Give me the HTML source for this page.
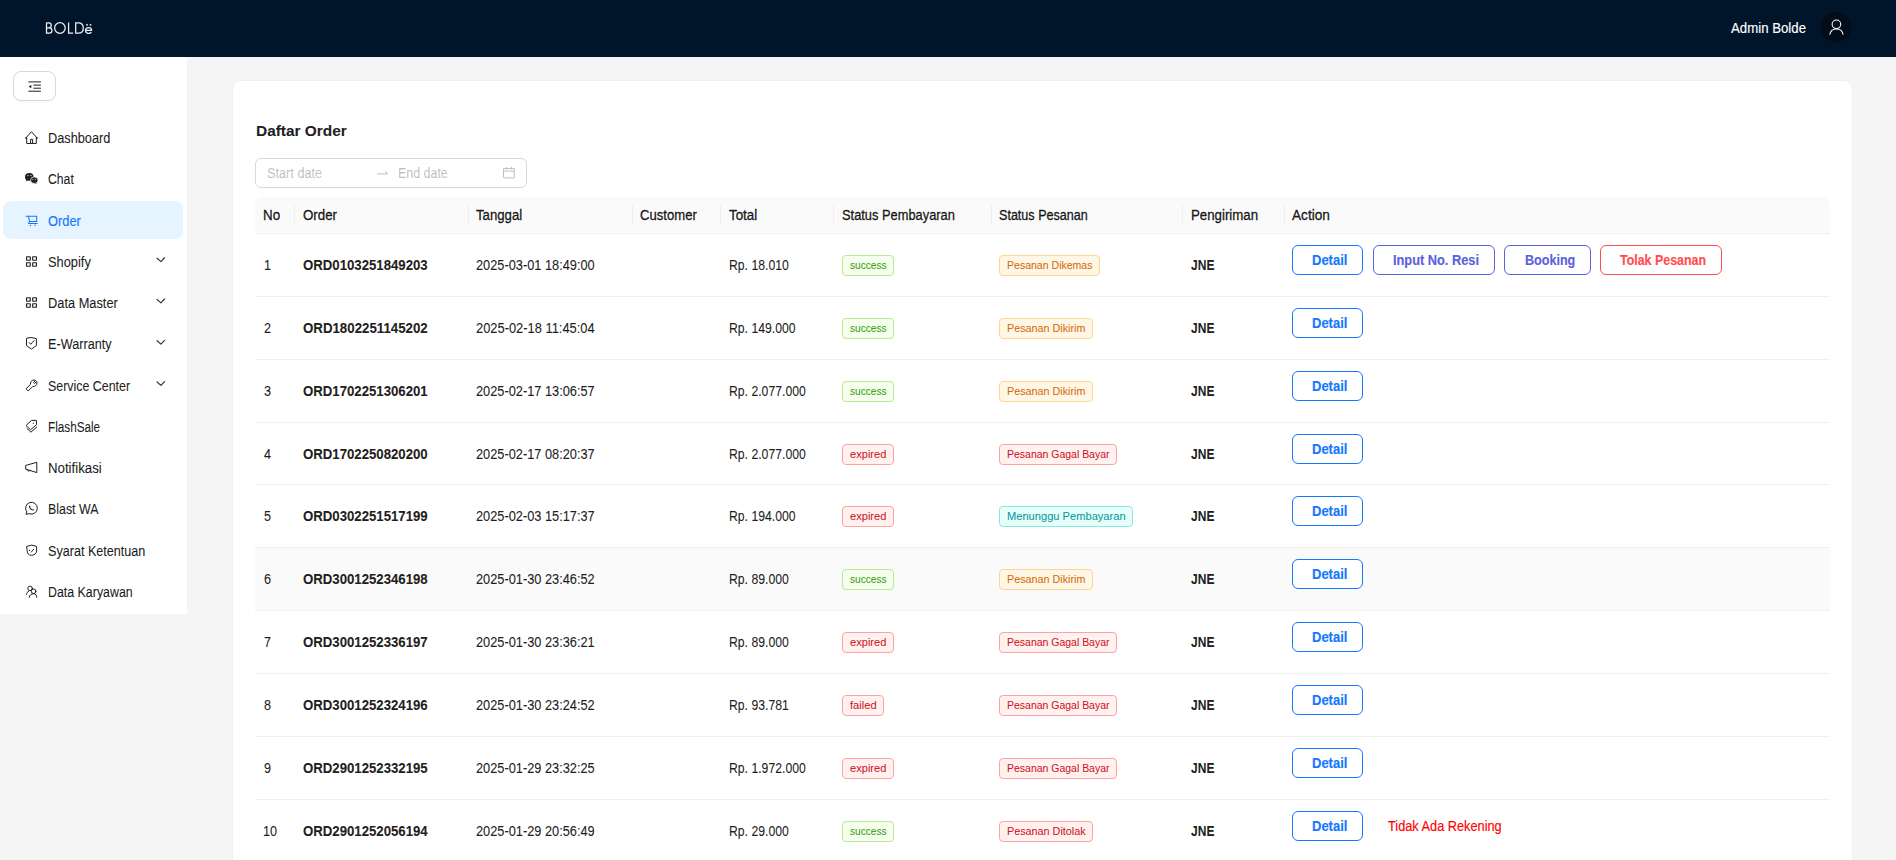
<!DOCTYPE html>
<html><head><meta charset="utf-8"><style>
html,body{margin:0;padding:0}
body{width:1896px;height:860px;overflow:hidden;position:relative;background:#f5f5f5;font-family:"Liberation Sans",sans-serif}
.t{position:absolute;white-space:pre;transform-origin:0 0;-webkit-text-stroke:0.15px currentColor}
svg{position:absolute;overflow:visible}
</style></head><body>
<div style="position:absolute;left:0px;top:0px;width:1896px;height:57px;background:#001529"></div>
<div style="position:absolute;left:0px;top:57px;width:187px;height:557px;background:#fff"></div>
<div style="position:absolute;left:13px;top:71.2px;width:43px;height:29.8px;box-sizing:border-box;border:1px solid #d9d9d9;border-radius:8px;box-shadow:0 2px 0 rgba(0,0,0,0.02);background:#fff"></div>
<div style="position:absolute;left:3px;top:200.6px;width:180px;height:38.3px;background:#e6f4ff;border-radius:8px"></div>
<div style="position:absolute;left:233px;top:81px;width:1619px;height:900px;background:#fff;border-radius:8px;box-shadow:0 0 0 1px #efefef"></div>
<div style="position:absolute;left:255px;top:158px;width:272px;height:29.6px;box-sizing:border-box;border:1px solid #d9d9d9;border-radius:6px;background:#fff"></div>
<div style="position:absolute;left:255px;top:197px;width:1575px;height:37px;background:#fafafa;border-radius:8px 8px 0 0;box-sizing:border-box;border-bottom:1px solid #f0f0f0"></div>
<div style="position:absolute;left:294.1px;top:204.3px;width:1px;height:21px;background:#f0f0f0"></div>
<div style="position:absolute;left:468.2px;top:204.3px;width:1px;height:21px;background:#f0f0f0"></div>
<div style="position:absolute;left:632.2px;top:204.3px;width:1px;height:21px;background:#f0f0f0"></div>
<div style="position:absolute;left:720.0px;top:204.3px;width:1px;height:21px;background:#f0f0f0"></div>
<div style="position:absolute;left:833.0px;top:204.3px;width:1px;height:21px;background:#f0f0f0"></div>
<div style="position:absolute;left:990.6px;top:204.3px;width:1px;height:21px;background:#f0f0f0"></div>
<div style="position:absolute;left:1182.1px;top:204.3px;width:1px;height:21px;background:#f0f0f0"></div>
<div style="position:absolute;left:1284.3px;top:204.3px;width:1px;height:21px;background:#f0f0f0"></div>
<div style="position:absolute;left:255px;top:548px;width:1575px;height:62px;background:#fafafa"></div>
<div style="position:absolute;left:255px;top:296px;width:1575px;height:1px;background:#f0f0f0"></div>
<div style="position:absolute;left:255px;top:359px;width:1575px;height:1px;background:#f0f0f0"></div>
<div style="position:absolute;left:255px;top:422px;width:1575px;height:1px;background:#f0f0f0"></div>
<div style="position:absolute;left:255px;top:484px;width:1575px;height:1px;background:#f0f0f0"></div>
<div style="position:absolute;left:255px;top:547px;width:1575px;height:1px;background:#f0f0f0"></div>
<div style="position:absolute;left:255px;top:610px;width:1575px;height:1px;background:#f0f0f0"></div>
<div style="position:absolute;left:255px;top:673px;width:1575px;height:1px;background:#f0f0f0"></div>
<div style="position:absolute;left:255px;top:736px;width:1575px;height:1px;background:#f0f0f0"></div>
<div style="position:absolute;left:255px;top:799px;width:1575px;height:1px;background:#f0f0f0"></div>
<div style="position:absolute;left:842.1px;top:255.1px;width:51.7px;height:20.7px;box-sizing:border-box;background:#f6ffed;border:1px solid #b7eb8f;border-radius:4px"></div>
<div style="position:absolute;left:999.1px;top:255.1px;width:100.7px;height:20.7px;box-sizing:border-box;background:#fff7e6;border:1px solid #ffd591;border-radius:4px"></div>
<div style="position:absolute;left:1292.2px;top:245.2px;width:70.7px;height:29.5px;box-sizing:border-box;border:1px solid #1677ff;border-radius:6px;background:#fff"></div>
<div style="position:absolute;left:1373.2px;top:245.2px;width:121.6px;height:29.5px;box-sizing:border-box;border:1px solid #5b62dd;border-radius:6px;background:#fff"></div>
<div style="position:absolute;left:1504.2px;top:245.2px;width:86.5px;height:29.5px;box-sizing:border-box;border:1px solid #5b62dd;border-radius:6px;background:#fff"></div>
<div style="position:absolute;left:1600.2px;top:245.2px;width:121.8px;height:29.5px;box-sizing:border-box;border:1px solid #ff4d4f;border-radius:6px;background:#fff"></div>
<div style="position:absolute;left:842.1px;top:318.1px;width:51.7px;height:20.7px;box-sizing:border-box;background:#f6ffed;border:1px solid #b7eb8f;border-radius:4px"></div>
<div style="position:absolute;left:999.1px;top:318.1px;width:93.6px;height:20.7px;box-sizing:border-box;background:#fff7e6;border:1px solid #ffd591;border-radius:4px"></div>
<div style="position:absolute;left:1292.2px;top:308.2px;width:70.7px;height:29.5px;box-sizing:border-box;border:1px solid #1677ff;border-radius:6px;background:#fff"></div>
<div style="position:absolute;left:842.1px;top:381.1px;width:51.7px;height:20.7px;box-sizing:border-box;background:#f6ffed;border:1px solid #b7eb8f;border-radius:4px"></div>
<div style="position:absolute;left:999.1px;top:381.1px;width:93.6px;height:20.7px;box-sizing:border-box;background:#fff7e6;border:1px solid #ffd591;border-radius:4px"></div>
<div style="position:absolute;left:1292.2px;top:371.2px;width:70.7px;height:29.5px;box-sizing:border-box;border:1px solid #1677ff;border-radius:6px;background:#fff"></div>
<div style="position:absolute;left:842.1px;top:444.1px;width:51.6px;height:20.7px;box-sizing:border-box;background:#fff1f0;border:1px solid #ffa39e;border-radius:4px"></div>
<div style="position:absolute;left:999.1px;top:444.1px;width:117.7px;height:20.7px;box-sizing:border-box;background:#fff1f0;border:1px solid #ffa39e;border-radius:4px"></div>
<div style="position:absolute;left:1292.2px;top:434.2px;width:70.7px;height:29.5px;box-sizing:border-box;border:1px solid #1677ff;border-radius:6px;background:#fff"></div>
<div style="position:absolute;left:842.1px;top:506.1px;width:51.6px;height:20.7px;box-sizing:border-box;background:#fff1f0;border:1px solid #ffa39e;border-radius:4px"></div>
<div style="position:absolute;left:999.1px;top:506.1px;width:133.8px;height:20.7px;box-sizing:border-box;background:#e6fffb;border:1px solid #87e8de;border-radius:4px"></div>
<div style="position:absolute;left:1292.2px;top:496.2px;width:70.7px;height:29.5px;box-sizing:border-box;border:1px solid #1677ff;border-radius:6px;background:#fff"></div>
<div style="position:absolute;left:842.1px;top:569.1px;width:51.7px;height:20.7px;box-sizing:border-box;background:#f6ffed;border:1px solid #b7eb8f;border-radius:4px"></div>
<div style="position:absolute;left:999.1px;top:569.1px;width:93.6px;height:20.7px;box-sizing:border-box;background:#fff7e6;border:1px solid #ffd591;border-radius:4px"></div>
<div style="position:absolute;left:1292.2px;top:559.2px;width:70.7px;height:29.5px;box-sizing:border-box;border:1px solid #1677ff;border-radius:6px;background:#fff"></div>
<div style="position:absolute;left:842.1px;top:632.1px;width:51.6px;height:20.7px;box-sizing:border-box;background:#fff1f0;border:1px solid #ffa39e;border-radius:4px"></div>
<div style="position:absolute;left:999.1px;top:632.1px;width:117.7px;height:20.7px;box-sizing:border-box;background:#fff1f0;border:1px solid #ffa39e;border-radius:4px"></div>
<div style="position:absolute;left:1292.2px;top:622.2px;width:70.7px;height:29.5px;box-sizing:border-box;border:1px solid #1677ff;border-radius:6px;background:#fff"></div>
<div style="position:absolute;left:842.1px;top:695.1px;width:41.8px;height:20.7px;box-sizing:border-box;background:#fff1f0;border:1px solid #ffa39e;border-radius:4px"></div>
<div style="position:absolute;left:999.1px;top:695.1px;width:117.7px;height:20.7px;box-sizing:border-box;background:#fff1f0;border:1px solid #ffa39e;border-radius:4px"></div>
<div style="position:absolute;left:1292.2px;top:685.2px;width:70.7px;height:29.5px;box-sizing:border-box;border:1px solid #1677ff;border-radius:6px;background:#fff"></div>
<div style="position:absolute;left:842.1px;top:758.1px;width:51.6px;height:20.7px;box-sizing:border-box;background:#fff1f0;border:1px solid #ffa39e;border-radius:4px"></div>
<div style="position:absolute;left:999.1px;top:758.1px;width:117.7px;height:20.7px;box-sizing:border-box;background:#fff1f0;border:1px solid #ffa39e;border-radius:4px"></div>
<div style="position:absolute;left:1292.2px;top:748.2px;width:70.7px;height:29.5px;box-sizing:border-box;border:1px solid #1677ff;border-radius:6px;background:#fff"></div>
<div style="position:absolute;left:842.1px;top:821.1px;width:51.7px;height:20.7px;box-sizing:border-box;background:#f6ffed;border:1px solid #b7eb8f;border-radius:4px"></div>
<div style="position:absolute;left:999.1px;top:821.1px;width:93.8px;height:20.7px;box-sizing:border-box;background:#fff1f0;border:1px solid #ffa39e;border-radius:4px"></div>
<div style="position:absolute;left:1292.2px;top:811.2px;width:70.7px;height:29.5px;box-sizing:border-box;border:1px solid #1677ff;border-radius:6px;background:#fff"></div>
<svg style="left:20px;top:128px" width="24" height="24" viewBox="0 0 24 24"><g fill="none" stroke="#1f1f1f" stroke-width="1" stroke-linejoin="miter" stroke-linecap="butt"><path d="M5.6 10.2 L11.45 3.7 L17.3 10.2"/><path d="M6.7 9.4 V15.45 H16.3 V9.4"/><path d="M10.6 15.45 V11.3 H12.6 V15.45"/></g><path d="M5 9.6 L6.9 9.6 L6.9 10.6 L5 10.6Z M16.1 9.6 L18 9.6 L18 10.6 L16.1 10.6Z" fill="#1f1f1f"/></svg>
<svg style="left:20px;top:168px" width="24" height="24" viewBox="0 0 24 24"><ellipse cx="9.3" cy="8.9" rx="4.3" ry="3.8" fill="#1f1f1f"/><path d="M6.4 11.8 L6.1 13.4 L8 12.3Z" fill="#1f1f1f"/><ellipse cx="14.3" cy="12.2" rx="3.7" ry="3.3" fill="#1f1f1f" stroke="#fff" stroke-width="0.7"/><path d="M16 14.8 L16.6 15.9 L15 15.3Z" fill="#1f1f1f"/><circle cx="8" cy="7.6" r="0.6" fill="#fff"/><circle cx="11" cy="7.6" r="0.6" fill="#fff"/><circle cx="12.8" cy="11.3" r="0.5" fill="#fff"/><circle cx="15.6" cy="11.3" r="0.5" fill="#fff"/></svg>
<svg style="left:20px;top:208px" width="24" height="24" viewBox="0 0 24 24"><g fill="none" stroke="#1677ff" stroke-width="1.05" stroke-linejoin="round" stroke-linecap="round"><path d="M6.1 8.2 H8.4 L9.5 13.4 H16.7 V8.2 H8.4"/><path d="M9.5 13.4 L8.6 15.4 H17.3"/></g><circle cx="10.4" cy="17.4" r="0.75" fill="#1677ff"/><circle cx="15.1" cy="17.2" r="0.75" fill="#1677ff"/></svg>
<svg style="left:20px;top:250px" width="24" height="24" viewBox="0 0 24 24"><g fill="none" stroke="#1f1f1f" stroke-width="1.15"><rect x="6.55" y="6.7" width="3.7" height="3.55" rx="0.25"/><rect x="12.7" y="6.7" width="3.7" height="3.55" rx="0.25"/><rect x="6.55" y="12.7" width="3.7" height="3.55" rx="0.25"/><rect x="12.7" y="12.7" width="3.7" height="3.55" rx="0.25"/></g></svg>
<svg style="left:20px;top:291.26px" width="24" height="24" viewBox="0 0 24 24"><g fill="none" stroke="#1f1f1f" stroke-width="1.15"><rect x="6.55" y="6.7" width="3.7" height="3.55" rx="0.25"/><rect x="12.7" y="6.7" width="3.7" height="3.55" rx="0.25"/><rect x="6.55" y="12.7" width="3.7" height="3.55" rx="0.25"/><rect x="12.7" y="12.7" width="3.7" height="3.55" rx="0.25"/></g></svg>
<svg style="left:20px;top:332px" width="24" height="24" viewBox="0 0 24 24"><g fill="none" stroke="#1f1f1f" stroke-width="1" stroke-linejoin="round" stroke-linecap="round"><path d="M11.45 5.6 L16.4 6.6 V13.6 L11.45 17.1 L6.5 13.6 V6.6 Z"/><path d="M9.3 10.7 L10.7 12.3 L14.1 8.5"/></g></svg>
<svg style="left:20px;top:373px" width="24" height="24" viewBox="0 0 24 24"><g fill="none" stroke="#1f1f1f" stroke-width="1" stroke-linejoin="round" stroke-linecap="round"><path d="M6.3 15.5 L10.5 11.3 C10 9.2 11.6 7 14.1 7 C14.7 7 15.2 7.1 15.6 7.3 L13.5 9.4 L14.6 10.5 L16.7 8.4 C16.9 8.8 17 9.3 17 9.9 C17 12.3 14.8 13.9 12.7 13.5 L8.5 17.7 Z"/></g></svg>
<svg style="left:20px;top:415px" width="24" height="24" viewBox="0 0 24 24"><g fill="none" stroke="#1f1f1f" stroke-width="1" stroke-linejoin="round" stroke-linecap="round"><path d="M6.3 10.3 L11.45 5.4 H16.3 L16.6 9.6 L10.9 14.5 Z"/><path d="M7.1 13.6 L10.9 17.2 L16.7 12.1"/></g><circle cx="13.4" cy="8.2" r="0.6" fill="#1f1f1f"/></svg>
<svg style="left:20px;top:456px" width="24" height="24" viewBox="0 0 24 24"><g fill="none" stroke="#1f1f1f" stroke-width="1" stroke-linejoin="round" stroke-linecap="round"><path d="M6.1 9.3 L16.8 6.3 V16.6 L6.1 13.3 Z"/><path d="M7.4 13.7 C7.6 15.6 9.6 15.6 10.1 14.2"/></g></svg>
<svg style="left:20px;top:497px" width="24" height="24" viewBox="0 0 24 24"><g fill="none" stroke="#1f1f1f" stroke-width="1" stroke-linejoin="round" stroke-linecap="round"><path d="M6.6 14.6 A5.9 5.9 0 1 1 9.3 16.7 L6.4 17.2 Z"/></g><path d="M9.3 8.5 C8.6 9.6 9.2 11.6 10.6 12.6 C11.8 13.5 13.3 13.9 14.4 13.1 L13.5 12.2 L12.4 12.6 C11.3 12 10.6 11.2 10.2 10.3 L10.6 9.2 Z" fill="#1f1f1f"/></svg>
<svg style="left:20px;top:538px" width="24" height="24" viewBox="0 0 24 24"><g fill="none" stroke="#1f1f1f" stroke-width="1" stroke-linejoin="round" stroke-linecap="round"><path d="M7.1 8.3 L11.45 7.1 L16.6 8.3 V13 C16.6 15.5 14.2 17.3 11.45 17.3 C8.7 17.3 7.1 15.5 7.1 13 Z"/><path d="M11.4 14 L13.6 11.3"/></g><circle cx="9.5" cy="12.4" r="0.6" fill="#1f1f1f"/></svg>
<svg style="left:20px;top:580px" width="24" height="24" viewBox="0 0 24 24"><g fill="none" stroke="#1f1f1f" stroke-width="1" stroke-linejoin="round" stroke-linecap="round"><circle cx="10.1" cy="8.4" r="2.3"/><circle cx="13.6" cy="11.3" r="2.3"/><path d="M6.4 14.4 C6.7 12.7 7.6 11.6 8.7 11.2"/><path d="M9.2 17.3 C9.5 15.2 11.3 13.7 13.6 13.7 C15.8 13.7 16.6 15.4 16.8 17.3"/></g></svg>
<svg style="left:0;top:0" width="1896" height="860" viewBox="0 0 1896 860"><path d="M157.1 258.20 L160.9 261.60 L164.6 257.80" fill="none" stroke="#3a3a3a" stroke-width="1.25" stroke-linecap="round" stroke-linejoin="round"/><path d="M157.1 299.46 L160.9 302.86 L164.6 299.06" fill="none" stroke="#3a3a3a" stroke-width="1.25" stroke-linecap="round" stroke-linejoin="round"/><path d="M157.1 340.72 L160.9 344.12 L164.6 340.32" fill="none" stroke="#3a3a3a" stroke-width="1.25" stroke-linecap="round" stroke-linejoin="round"/><path d="M157.1 381.98 L160.9 385.38 L164.6 381.58" fill="none" stroke="#3a3a3a" stroke-width="1.25" stroke-linecap="round" stroke-linejoin="round"/><g fill="#1f1f1f"><rect x="28.4" y="81.4" width="12.5" height="1"/><rect x="33.4" y="84.6" width="7.5" height="1"/><rect x="33.4" y="87.7" width="7.5" height="1"/><rect x="28.4" y="90.7" width="12.5" height="1"/><path d="M28.6 86.6 L31.3 84.9 V88.3 Z"/></g><path d="M377 173.9 H387.6 L385 171" fill="none" stroke="#bfbfbf" stroke-width="1" stroke-linejoin="round"/><g fill="none" stroke="#bfbfbf" stroke-width="1"><rect x="503.5" y="168.5" width="10.7" height="9.4" rx="0.4"/><path d="M503.5 171.1 H514.2 M506.3 166.9 V169.6 M511.4 166.9 V169.6"/></g><circle cx="1836" cy="27" r="15.1" fill="#020d19"/><g fill="none" stroke="#fff" stroke-width="1.05"><circle cx="1836.4" cy="24.3" r="4.3"/><path d="M1829.8 34.6 C1830.3 31.1 1832.8 29 1836.4 29 C1840 29 1842.6 31.1 1843.1 34.6"/></g><g fill="none" stroke="#f3eef4" stroke-width="1.25"><path d="M46.5 22.8 H48.9 C50.5 22.8 51.2 23.9 51.2 25.3 C51.2 26.7 50.4 27.9 48.9 27.9 H46.5 M46.5 22.8 V33.2 H49.4 C51.2 33.2 51.9 32.1 51.9 30.6 C51.9 29 50.9 27.9 49.2 27.9"/><circle cx="59.9" cy="28" r="5.3"/><path d="M68.6 22.5 V33.2 H73.1"/><path d="M75.7 22.8 V33.2 H78.3 C81.6 33.2 83.3 31 83.3 28 C83.3 25 81.6 22.8 78.3 22.8 Z"/><path d="M85.5 30.4 H91.6 C91.6 28.6 90.3 27.6 88.6 27.6 C86.8 27.6 85.5 28.8 85.5 30.5 C85.5 32.2 86.8 33.3 88.6 33.3 C89.8 33.3 90.8 32.8 91.4 32"/></g><rect x="86.2" y="24.1" width="1.6" height="1.5" fill="#f3eef4"/><rect x="89.7" y="24.1" width="1.6" height="1.5" fill="#f3eef4"/></svg>
<div class="t" style="left:1731.30px;top:20.55px;font-size:14px;line-height:14px;font-weight:400;color:#fff;transform:scaleX(0.9447);">Admin Bolde</div>
<div class="t" style="left:48.10px;top:131.15px;font-size:14px;line-height:14px;font-weight:400;color:rgba(0,0,0,0.88);transform:scaleX(0.9109);">Dashboard</div>
<div class="t" style="left:48.10px;top:172.41px;font-size:14px;line-height:14px;font-weight:400;color:rgba(0,0,0,0.88);transform:scaleX(0.8723);">Chat</div>
<div class="t" style="left:48.10px;top:213.67px;font-size:14px;line-height:14px;font-weight:400;color:#1677ff;transform:scaleX(0.9191);">Order</div>
<div class="t" style="left:48.10px;top:254.93px;font-size:14px;line-height:14px;font-weight:400;color:rgba(0,0,0,0.88);transform:scaleX(0.9164);">Shopify</div>
<div class="t" style="left:48.10px;top:296.19px;font-size:14px;line-height:14px;font-weight:400;color:rgba(0,0,0,0.88);transform:scaleX(0.9154);">Data Master</div>
<div class="t" style="left:48.10px;top:337.45px;font-size:14px;line-height:14px;font-weight:400;color:rgba(0,0,0,0.88);transform:scaleX(0.9049);">E-Warranty</div>
<div class="t" style="left:48.10px;top:378.71px;font-size:14px;line-height:14px;font-weight:400;color:rgba(0,0,0,0.88);transform:scaleX(0.8867);">Service Center</div>
<div class="t" style="left:48.10px;top:419.97px;font-size:14px;line-height:14px;font-weight:400;color:rgba(0,0,0,0.88);transform:scaleX(0.8367);">FlashSale</div>
<div class="t" style="left:48.10px;top:461.23px;font-size:14px;line-height:14px;font-weight:400;color:rgba(0,0,0,0.88);transform:scaleX(0.9455);">Notifikasi</div>
<div class="t" style="left:48.10px;top:502.49px;font-size:14px;line-height:14px;font-weight:400;color:rgba(0,0,0,0.88);transform:scaleX(0.8852);">Blast WA</div>
<div class="t" style="left:48.10px;top:543.75px;font-size:14px;line-height:14px;font-weight:400;color:rgba(0,0,0,0.88);transform:scaleX(0.8994);">Syarat Ketentuan</div>
<div class="t" style="left:48.10px;top:585.01px;font-size:14px;line-height:14px;font-weight:400;color:rgba(0,0,0,0.88);transform:scaleX(0.8849);">Data Karyawan</div>
<div class="t" style="left:255.80px;top:123.20px;font-size:15px;line-height:15px;font-weight:700;color:rgba(0,0,0,0.88);transform:scaleX(1.0276);">Daftar Order</div>
<div class="t" style="left:266.80px;top:166.25px;font-size:14px;line-height:14px;font-weight:400;color:rgba(0,0,0,0.25);transform:scaleX(0.9093);">Start date</div>
<div class="t" style="left:398.10px;top:166.25px;font-size:14px;line-height:14px;font-weight:400;color:rgba(0,0,0,0.25);transform:scaleX(0.8883);">End date</div>
<div class="t" style="left:263.00px;top:208.15px;font-size:14px;line-height:14px;font-weight:400;color:rgba(0,0,0,0.88);transform:scaleX(0.9550);-webkit-text-stroke:0.35px rgba(0,0,0,0.88);">No</div>
<div class="t" style="left:302.80px;top:208.15px;font-size:14px;line-height:14px;font-weight:400;color:rgba(0,0,0,0.88);transform:scaleX(0.9498);-webkit-text-stroke:0.35px rgba(0,0,0,0.88);">Order</div>
<div class="t" style="left:476.00px;top:208.15px;font-size:14px;line-height:14px;font-weight:400;color:rgba(0,0,0,0.88);transform:scaleX(0.9420);-webkit-text-stroke:0.35px rgba(0,0,0,0.88);">Tanggal</div>
<div class="t" style="left:640.00px;top:208.15px;font-size:14px;line-height:14px;font-weight:400;color:rgba(0,0,0,0.88);transform:scaleX(0.9359);-webkit-text-stroke:0.35px rgba(0,0,0,0.88);">Customer</div>
<div class="t" style="left:729.10px;top:208.15px;font-size:14px;line-height:14px;font-weight:400;color:rgba(0,0,0,0.88);transform:scaleX(0.9534);-webkit-text-stroke:0.35px rgba(0,0,0,0.88);">Total</div>
<div class="t" style="left:841.80px;top:208.15px;font-size:14px;line-height:14px;font-weight:400;color:rgba(0,0,0,0.88);transform:scaleX(0.9181);-webkit-text-stroke:0.35px rgba(0,0,0,0.88);">Status Pembayaran</div>
<div class="t" style="left:999.00px;top:208.15px;font-size:14px;line-height:14px;font-weight:400;color:rgba(0,0,0,0.88);transform:scaleX(0.8982);-webkit-text-stroke:0.35px rgba(0,0,0,0.88);">Status Pesanan</div>
<div class="t" style="left:1190.80px;top:208.15px;font-size:14px;line-height:14px;font-weight:400;color:rgba(0,0,0,0.88);transform:scaleX(0.9474);-webkit-text-stroke:0.35px rgba(0,0,0,0.88);">Pengiriman</div>
<div class="t" style="left:1292.20px;top:208.15px;font-size:14px;line-height:14px;font-weight:400;color:rgba(0,0,0,0.88);transform:scaleX(0.9737);-webkit-text-stroke:0.35px rgba(0,0,0,0.88);">Action</div>
<div class="t" style="left:264.00px;top:258.15px;font-size:14px;line-height:14px;font-weight:400;color:rgba(0,0,0,0.88);transform:scaleX(0.9016);">1</div>
<div class="t" style="left:303.30px;top:258.15px;font-size:14px;line-height:14px;font-weight:700;color:rgba(0,0,0,0.88);transform:scaleX(0.9422);">ORD0103251849203</div>
<div class="t" style="left:476.00px;top:258.15px;font-size:14px;line-height:14px;font-weight:400;color:rgba(0,0,0,0.88);transform:scaleX(0.9131);">2025-03-01 18:49:00</div>
<div class="t" style="left:729.10px;top:258.15px;font-size:14px;line-height:14px;font-weight:400;color:rgba(0,0,0,0.88);transform:scaleX(0.8730);">Rp. 18.010</div>
<div class="t" style="left:849.70px;top:259.97px;font-size:11.5px;line-height:11.5px;font-weight:400;color:#389e0d;transform:scaleX(0.8785);-webkit-text-stroke:0.05px currentColor;">success</div>
<div class="t" style="left:1006.70px;top:259.97px;font-size:11.5px;line-height:11.5px;font-weight:400;color:#d46b08;transform:scaleX(0.9161);-webkit-text-stroke:0.05px currentColor;">Pesanan Dikemas</div>
<div class="t" style="left:1190.80px;top:258.15px;font-size:14px;line-height:14px;font-weight:700;color:rgba(0,0,0,0.88);transform:scaleX(0.8592);">JNE</div>
<div class="t" style="left:1312.00px;top:253.05px;font-size:14px;line-height:14px;font-weight:700;color:#1677ff;transform:scaleX(0.9285);">Detail</div>
<div class="t" style="left:1393.10px;top:253.05px;font-size:14px;line-height:14px;font-weight:700;color:#5b62dd;transform:scaleX(0.9137);">Input No. Resi</div>
<div class="t" style="left:1524.90px;top:253.05px;font-size:14px;line-height:14px;font-weight:700;color:#5b62dd;transform:scaleX(0.8982);">Booking</div>
<div class="t" style="left:1620.10px;top:253.05px;font-size:14px;line-height:14px;font-weight:700;color:#ff4d4f;transform:scaleX(0.8875);">Tolak Pesanan</div>
<div class="t" style="left:264.00px;top:321.15px;font-size:14px;line-height:14px;font-weight:400;color:rgba(0,0,0,0.88);transform:scaleX(0.9016);">2</div>
<div class="t" style="left:303.30px;top:321.15px;font-size:14px;line-height:14px;font-weight:700;color:rgba(0,0,0,0.88);transform:scaleX(0.9478);">ORD1802251145202</div>
<div class="t" style="left:476.00px;top:321.15px;font-size:14px;line-height:14px;font-weight:400;color:rgba(0,0,0,0.88);transform:scaleX(0.9204);">2025-02-18 11:45:04</div>
<div class="t" style="left:729.10px;top:321.15px;font-size:14px;line-height:14px;font-weight:400;color:rgba(0,0,0,0.88);transform:scaleX(0.8730);">Rp. 149.000</div>
<div class="t" style="left:849.70px;top:322.97px;font-size:11.5px;line-height:11.5px;font-weight:400;color:#389e0d;transform:scaleX(0.8785);-webkit-text-stroke:0.05px currentColor;">success</div>
<div class="t" style="left:1006.70px;top:322.97px;font-size:11.5px;line-height:11.5px;font-weight:400;color:#d46b08;transform:scaleX(0.9363);-webkit-text-stroke:0.05px currentColor;">Pesanan Dikirim</div>
<div class="t" style="left:1190.80px;top:321.15px;font-size:14px;line-height:14px;font-weight:700;color:rgba(0,0,0,0.88);transform:scaleX(0.8592);">JNE</div>
<div class="t" style="left:1312.00px;top:316.05px;font-size:14px;line-height:14px;font-weight:700;color:#1677ff;transform:scaleX(0.9285);">Detail</div>
<div class="t" style="left:264.00px;top:384.15px;font-size:14px;line-height:14px;font-weight:400;color:rgba(0,0,0,0.88);transform:scaleX(0.9016);">3</div>
<div class="t" style="left:303.30px;top:384.15px;font-size:14px;line-height:14px;font-weight:700;color:rgba(0,0,0,0.88);transform:scaleX(0.9422);">ORD1702251306201</div>
<div class="t" style="left:476.00px;top:384.15px;font-size:14px;line-height:14px;font-weight:400;color:rgba(0,0,0,0.88);transform:scaleX(0.9131);">2025-02-17 13:06:57</div>
<div class="t" style="left:729.10px;top:384.15px;font-size:14px;line-height:14px;font-weight:400;color:rgba(0,0,0,0.88);transform:scaleX(0.8730);">Rp. 2.077.000</div>
<div class="t" style="left:849.70px;top:385.97px;font-size:11.5px;line-height:11.5px;font-weight:400;color:#389e0d;transform:scaleX(0.8785);-webkit-text-stroke:0.05px currentColor;">success</div>
<div class="t" style="left:1006.70px;top:385.97px;font-size:11.5px;line-height:11.5px;font-weight:400;color:#d46b08;transform:scaleX(0.9363);-webkit-text-stroke:0.05px currentColor;">Pesanan Dikirim</div>
<div class="t" style="left:1190.80px;top:384.15px;font-size:14px;line-height:14px;font-weight:700;color:rgba(0,0,0,0.88);transform:scaleX(0.8592);">JNE</div>
<div class="t" style="left:1312.00px;top:379.05px;font-size:14px;line-height:14px;font-weight:700;color:#1677ff;transform:scaleX(0.9285);">Detail</div>
<div class="t" style="left:264.00px;top:447.15px;font-size:14px;line-height:14px;font-weight:400;color:rgba(0,0,0,0.88);transform:scaleX(0.9016);">4</div>
<div class="t" style="left:303.30px;top:447.15px;font-size:14px;line-height:14px;font-weight:700;color:rgba(0,0,0,0.88);transform:scaleX(0.9422);">ORD1702250820200</div>
<div class="t" style="left:476.00px;top:447.15px;font-size:14px;line-height:14px;font-weight:400;color:rgba(0,0,0,0.88);transform:scaleX(0.9131);">2025-02-17 08:20:37</div>
<div class="t" style="left:729.10px;top:447.15px;font-size:14px;line-height:14px;font-weight:400;color:rgba(0,0,0,0.88);transform:scaleX(0.8730);">Rp. 2.077.000</div>
<div class="t" style="left:849.70px;top:448.97px;font-size:11.5px;line-height:11.5px;font-weight:400;color:#cf1322;transform:scaleX(0.9650);-webkit-text-stroke:0.05px currentColor;">expired</div>
<div class="t" style="left:1006.70px;top:448.97px;font-size:11.5px;line-height:11.5px;font-weight:400;color:#cf1322;transform:scaleX(0.9109);-webkit-text-stroke:0.05px currentColor;">Pesanan Gagal Bayar</div>
<div class="t" style="left:1190.80px;top:447.15px;font-size:14px;line-height:14px;font-weight:700;color:rgba(0,0,0,0.88);transform:scaleX(0.8592);">JNE</div>
<div class="t" style="left:1312.00px;top:442.05px;font-size:14px;line-height:14px;font-weight:700;color:#1677ff;transform:scaleX(0.9285);">Detail</div>
<div class="t" style="left:264.00px;top:509.15px;font-size:14px;line-height:14px;font-weight:400;color:rgba(0,0,0,0.88);transform:scaleX(0.9016);">5</div>
<div class="t" style="left:303.30px;top:509.15px;font-size:14px;line-height:14px;font-weight:700;color:rgba(0,0,0,0.88);transform:scaleX(0.9422);">ORD0302251517199</div>
<div class="t" style="left:476.00px;top:509.15px;font-size:14px;line-height:14px;font-weight:400;color:rgba(0,0,0,0.88);transform:scaleX(0.9131);">2025-02-03 15:17:37</div>
<div class="t" style="left:729.10px;top:509.15px;font-size:14px;line-height:14px;font-weight:400;color:rgba(0,0,0,0.88);transform:scaleX(0.8730);">Rp. 194.000</div>
<div class="t" style="left:849.70px;top:510.97px;font-size:11.5px;line-height:11.5px;font-weight:400;color:#cf1322;transform:scaleX(0.9650);-webkit-text-stroke:0.05px currentColor;">expired</div>
<div class="t" style="left:1006.70px;top:510.97px;font-size:11.5px;line-height:11.5px;font-weight:400;color:#08979c;transform:scaleX(0.9662);-webkit-text-stroke:0.05px currentColor;">Menunggu Pembayaran</div>
<div class="t" style="left:1190.80px;top:509.15px;font-size:14px;line-height:14px;font-weight:700;color:rgba(0,0,0,0.88);transform:scaleX(0.8592);">JNE</div>
<div class="t" style="left:1312.00px;top:504.05px;font-size:14px;line-height:14px;font-weight:700;color:#1677ff;transform:scaleX(0.9285);">Detail</div>
<div class="t" style="left:264.00px;top:572.15px;font-size:14px;line-height:14px;font-weight:400;color:rgba(0,0,0,0.88);transform:scaleX(0.9016);">6</div>
<div class="t" style="left:303.30px;top:572.15px;font-size:14px;line-height:14px;font-weight:700;color:rgba(0,0,0,0.88);transform:scaleX(0.9422);">ORD3001252346198</div>
<div class="t" style="left:476.00px;top:572.15px;font-size:14px;line-height:14px;font-weight:400;color:rgba(0,0,0,0.88);transform:scaleX(0.9131);">2025-01-30 23:46:52</div>
<div class="t" style="left:729.10px;top:572.15px;font-size:14px;line-height:14px;font-weight:400;color:rgba(0,0,0,0.88);transform:scaleX(0.8730);">Rp. 89.000</div>
<div class="t" style="left:849.70px;top:573.97px;font-size:11.5px;line-height:11.5px;font-weight:400;color:#389e0d;transform:scaleX(0.8785);-webkit-text-stroke:0.05px currentColor;">success</div>
<div class="t" style="left:1006.70px;top:573.97px;font-size:11.5px;line-height:11.5px;font-weight:400;color:#d46b08;transform:scaleX(0.9363);-webkit-text-stroke:0.05px currentColor;">Pesanan Dikirim</div>
<div class="t" style="left:1190.80px;top:572.15px;font-size:14px;line-height:14px;font-weight:700;color:rgba(0,0,0,0.88);transform:scaleX(0.8592);">JNE</div>
<div class="t" style="left:1312.00px;top:567.05px;font-size:14px;line-height:14px;font-weight:700;color:#1677ff;transform:scaleX(0.9285);">Detail</div>
<div class="t" style="left:264.00px;top:635.15px;font-size:14px;line-height:14px;font-weight:400;color:rgba(0,0,0,0.88);transform:scaleX(0.9016);">7</div>
<div class="t" style="left:303.30px;top:635.15px;font-size:14px;line-height:14px;font-weight:700;color:rgba(0,0,0,0.88);transform:scaleX(0.9422);">ORD3001252336197</div>
<div class="t" style="left:476.00px;top:635.15px;font-size:14px;line-height:14px;font-weight:400;color:rgba(0,0,0,0.88);transform:scaleX(0.9131);">2025-01-30 23:36:21</div>
<div class="t" style="left:729.10px;top:635.15px;font-size:14px;line-height:14px;font-weight:400;color:rgba(0,0,0,0.88);transform:scaleX(0.8730);">Rp. 89.000</div>
<div class="t" style="left:849.70px;top:636.97px;font-size:11.5px;line-height:11.5px;font-weight:400;color:#cf1322;transform:scaleX(0.9650);-webkit-text-stroke:0.05px currentColor;">expired</div>
<div class="t" style="left:1006.70px;top:636.97px;font-size:11.5px;line-height:11.5px;font-weight:400;color:#cf1322;transform:scaleX(0.9109);-webkit-text-stroke:0.05px currentColor;">Pesanan Gagal Bayar</div>
<div class="t" style="left:1190.80px;top:635.15px;font-size:14px;line-height:14px;font-weight:700;color:rgba(0,0,0,0.88);transform:scaleX(0.8592);">JNE</div>
<div class="t" style="left:1312.00px;top:630.05px;font-size:14px;line-height:14px;font-weight:700;color:#1677ff;transform:scaleX(0.9285);">Detail</div>
<div class="t" style="left:264.00px;top:698.15px;font-size:14px;line-height:14px;font-weight:400;color:rgba(0,0,0,0.88);transform:scaleX(0.9016);">8</div>
<div class="t" style="left:303.30px;top:698.15px;font-size:14px;line-height:14px;font-weight:700;color:rgba(0,0,0,0.88);transform:scaleX(0.9422);">ORD3001252324196</div>
<div class="t" style="left:476.00px;top:698.15px;font-size:14px;line-height:14px;font-weight:400;color:rgba(0,0,0,0.88);transform:scaleX(0.9131);">2025-01-30 23:24:52</div>
<div class="t" style="left:729.10px;top:698.15px;font-size:14px;line-height:14px;font-weight:400;color:rgba(0,0,0,0.88);transform:scaleX(0.8730);">Rp. 93.781</div>
<div class="t" style="left:849.70px;top:699.97px;font-size:11.5px;line-height:11.5px;font-weight:400;color:#cf1322;transform:scaleX(0.9673);-webkit-text-stroke:0.05px currentColor;">failed</div>
<div class="t" style="left:1006.70px;top:699.97px;font-size:11.5px;line-height:11.5px;font-weight:400;color:#cf1322;transform:scaleX(0.9109);-webkit-text-stroke:0.05px currentColor;">Pesanan Gagal Bayar</div>
<div class="t" style="left:1190.80px;top:698.15px;font-size:14px;line-height:14px;font-weight:700;color:rgba(0,0,0,0.88);transform:scaleX(0.8592);">JNE</div>
<div class="t" style="left:1312.00px;top:693.05px;font-size:14px;line-height:14px;font-weight:700;color:#1677ff;transform:scaleX(0.9285);">Detail</div>
<div class="t" style="left:264.00px;top:761.15px;font-size:14px;line-height:14px;font-weight:400;color:rgba(0,0,0,0.88);transform:scaleX(0.9016);">9</div>
<div class="t" style="left:303.30px;top:761.15px;font-size:14px;line-height:14px;font-weight:700;color:rgba(0,0,0,0.88);transform:scaleX(0.9422);">ORD2901252332195</div>
<div class="t" style="left:476.00px;top:761.15px;font-size:14px;line-height:14px;font-weight:400;color:rgba(0,0,0,0.88);transform:scaleX(0.9131);">2025-01-29 23:32:25</div>
<div class="t" style="left:729.10px;top:761.15px;font-size:14px;line-height:14px;font-weight:400;color:rgba(0,0,0,0.88);transform:scaleX(0.8730);">Rp. 1.972.000</div>
<div class="t" style="left:849.70px;top:762.97px;font-size:11.5px;line-height:11.5px;font-weight:400;color:#cf1322;transform:scaleX(0.9650);-webkit-text-stroke:0.05px currentColor;">expired</div>
<div class="t" style="left:1006.70px;top:762.97px;font-size:11.5px;line-height:11.5px;font-weight:400;color:#cf1322;transform:scaleX(0.9109);-webkit-text-stroke:0.05px currentColor;">Pesanan Gagal Bayar</div>
<div class="t" style="left:1190.80px;top:761.15px;font-size:14px;line-height:14px;font-weight:700;color:rgba(0,0,0,0.88);transform:scaleX(0.8592);">JNE</div>
<div class="t" style="left:1312.00px;top:756.05px;font-size:14px;line-height:14px;font-weight:700;color:#1677ff;transform:scaleX(0.9285);">Detail</div>
<div class="t" style="left:263.00px;top:824.15px;font-size:14px;line-height:14px;font-weight:400;color:rgba(0,0,0,0.88);transform:scaleX(0.9016);">10</div>
<div class="t" style="left:303.30px;top:824.15px;font-size:14px;line-height:14px;font-weight:700;color:rgba(0,0,0,0.88);transform:scaleX(0.9422);">ORD2901252056194</div>
<div class="t" style="left:476.00px;top:824.15px;font-size:14px;line-height:14px;font-weight:400;color:rgba(0,0,0,0.88);transform:scaleX(0.9131);">2025-01-29 20:56:49</div>
<div class="t" style="left:729.10px;top:824.15px;font-size:14px;line-height:14px;font-weight:400;color:rgba(0,0,0,0.88);transform:scaleX(0.8730);">Rp. 29.000</div>
<div class="t" style="left:849.70px;top:825.97px;font-size:11.5px;line-height:11.5px;font-weight:400;color:#389e0d;transform:scaleX(0.8785);-webkit-text-stroke:0.05px currentColor;">success</div>
<div class="t" style="left:1006.70px;top:825.97px;font-size:11.5px;line-height:11.5px;font-weight:400;color:#cf1322;transform:scaleX(0.9385);-webkit-text-stroke:0.05px currentColor;">Pesanan Ditolak</div>
<div class="t" style="left:1190.80px;top:824.15px;font-size:14px;line-height:14px;font-weight:700;color:rgba(0,0,0,0.88);transform:scaleX(0.8592);">JNE</div>
<div class="t" style="left:1312.00px;top:819.05px;font-size:14px;line-height:14px;font-weight:700;color:#1677ff;transform:scaleX(0.9285);">Detail</div>
<div class="t" style="left:1387.70px;top:818.75px;font-size:14px;line-height:14px;font-weight:400;color:#ff0000;transform:scaleX(0.9111);">Tidak Ada Rekening</div>
</body></html>
